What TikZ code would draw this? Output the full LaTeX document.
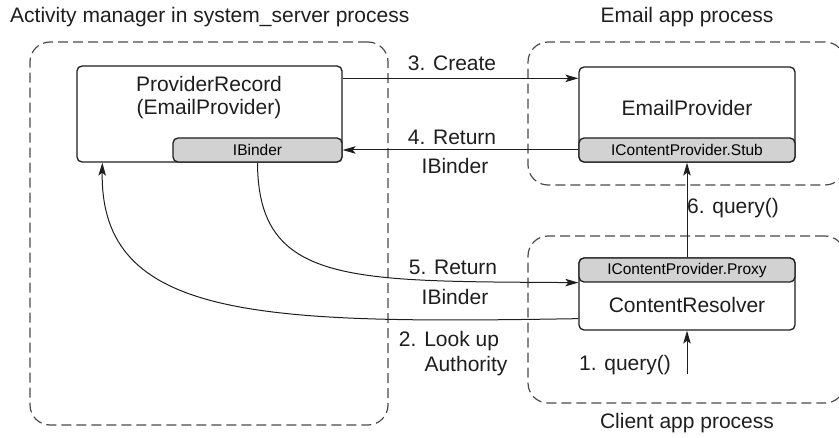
\documentclass[tikz,border=0pt]{standalone}
\usepackage{fontspec}
\setmainfont{Liberation Sans}
\usetikzlibrary{arrows.meta,calc}
\definecolor{dashgray}{HTML}{4A4A4A}
\definecolor{boxgray}{HTML}{D2D2D2}
\definecolor{ink}{HTML}{1E1E1E}
\tikzset{
  procbox/.style={draw=dashgray, line width=1.2pt, dash pattern=on 10pt off 5pt, rounded corners=20pt, inner sep=0pt},
  whitebox/.style={draw=ink, line width=1.3pt, fill=white, rounded corners=5pt, inner sep=0pt},
  graybox/.style={draw=ink, line width=1.3pt, fill=boxgray, rounded corners=5pt, inner sep=0pt, font=\fontsize{15.5}{18}\selectfont},
  bigtxt/.style={inner sep=0pt, font=\fontsize{21}{23}\selectfont, text=ink},
  conn/.style={draw=ink, line width=1pt, -{Stealth[length=13pt,width=7.5pt,inset=3pt]}},
}
\begin{document}
\begin{tikzpicture}[x=1pt,y=-1pt]
\useasboundingbox (0,0) rectangle (839,438);
% process boxes
\node[procbox, minimum width=358, minimum height=383] (asp) at (209,233.5) {};
\node[procbox, minimum width=317, minimum height=143] (eap) at (686.5,113.5) {};
\node[procbox, minimum width=317, minimum height=167] (cap) at (686.5,319.5) {};
% titles
\node[bigtxt, anchor=west] (t1) at (10,17) {Activity manager in system\_server process};
\node[bigtxt] (t2) at (687,17) {Email app process};
\node[bigtxt] (t3) at (687,423) {Client app process};
% provider record
\node[whitebox, minimum width=265, minimum height=96] (pr) at (209.5,114) {};
\node[bigtxt, align=center] (prt) at (209,98) {ProviderRecord\\(EmailProvider)};
\node[graybox, minimum width=169, minimum height=24] (ib) at (257.5,150) {IBinder};
% email provider
\node[whitebox, minimum width=216, minimum height=95] (ep) at (687,114.5) {};
\node[bigtxt] (ept) at (687,108) {EmailProvider};
\node[graybox, minimum width=216, minimum height=24] (stub) at (687,150) {IContentProvider.Stub};
% content resolver
\node[whitebox, minimum width=216, minimum height=72] (cr) at (687,294) {};
\node[graybox, minimum width=216, minimum height=24] (proxy) at (687,270) {IContentProvider.Proxy};
\node[bigtxt] (crt) at (687,305) {ContentResolver};
% labels
\node[bigtxt] (l3) at (452,63) {3. Create};
\node[bigtxt] (l4a) at (452,137) {4. Return};
\node[bigtxt] (l4b) at (455,166) {IBinder};
\node[bigtxt] (l5a) at (453,267) {5. Return};
\node[bigtxt] (l5b) at (455,297) {IBinder};
\node[bigtxt] (l2a) at (449,341) {2. Look up};
\node[bigtxt] (l2b) at (466,366) {Authority};
\node[bigtxt] (l1) at (625,365) {1. query()};
\node[bigtxt] (l6) at (733,208) {6. query()};
% connectors
\draw[conn] ([yshift=-13pt]pr.north east) -- ([yshift=-12pt]ep.north west);
\draw[conn] (stub.west) -- (ib.east);
\draw[conn] (ib.south) .. controls (258,285) and (350,281) .. (proxy.south west);
\draw[conn] ([yshift=12pt]cr.south west) .. controls (260,324) and (100,320) .. ([xshift=26pt]pr.south west);
\draw[conn] (proxy.north) -- (stub.south);
\coordinate (q1) at (687,374);
\draw[conn] (q1) -- (cr.south);
\end{tikzpicture}
\end{document}
